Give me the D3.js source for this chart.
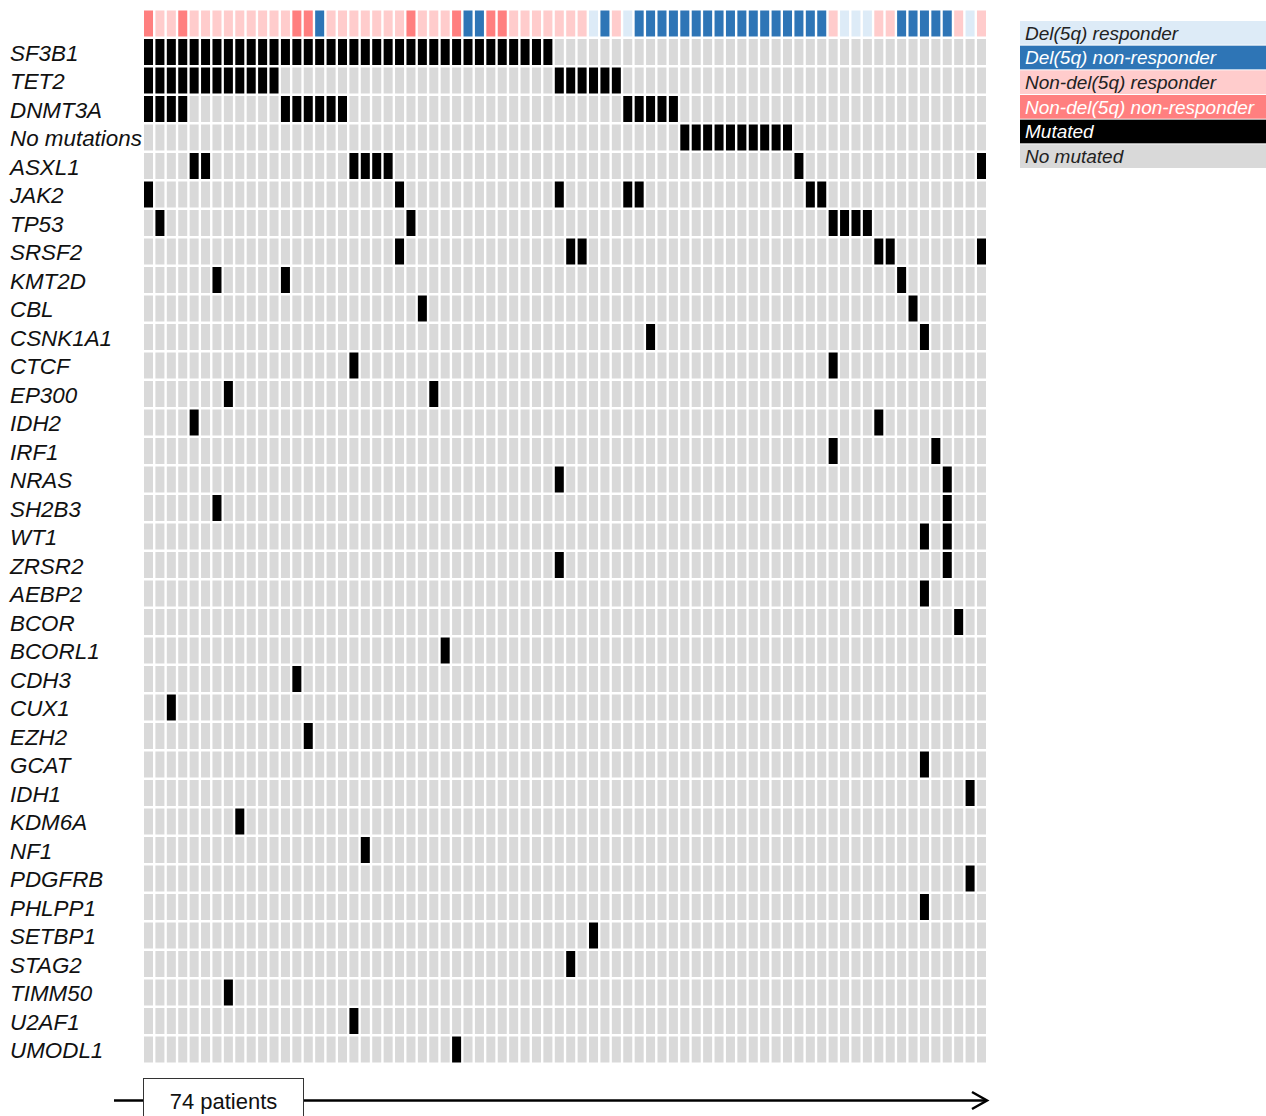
<!DOCTYPE html>
<html>
<head>
<meta charset="utf-8">
<script src="https://cdn.jsdelivr.net/npm/d3@7"></script>
<style>
  body { margin: 0; background: #fff; }
  svg { display: block; font-family: "Liberation Sans", Arial, sans-serif; }
</style>
</head>
<body>
<div id="chart"></div>
<script>
// genes, top to bottom
const genes = ["SF3B1", "TET2", "DNMT3A", "No mutations", "ASXL1", "JAK2", "TP53", "SRSF2",
  "KMT2D", "CBL", "CSNK1A1", "CTCF", "EP300", "IDH2", "IRF1", "NRAS", "SH2B3", "WT1", "ZRSR2",
  "AEBP2", "BCOR", "BCORL1", "CDH3", "CUX1", "EZH2", "GCAT", "IDH1", "KDM6A", "NF1", "PDGFRB",
  "PHLPP1", "SETBP1", "STAG2", "TIMM50", "U2AF1", "UMODL1"];

// mutated patients (column index 0..73) for each gene, same order as genes
const mutated = [
  d3.range(0, 36),
  [...d3.range(0, 12), ...d3.range(36, 42)],
  [...d3.range(0, 4), ...d3.range(12, 18), ...d3.range(42, 47)],
  d3.range(47, 57),
  [4, 5, 18, 19, 20, 21, 57, 73],
  [0, 22, 36, 42, 43, 58, 59],
  [1, 23, 60, 61, 62, 63],
  [22, 37, 38, 64, 65, 73],
  [6, 12, 66],
  [24, 67],
  [44, 68],
  [18, 60],
  [7, 25],
  [4, 64],
  [60, 69],
  [36, 70],
  [6, 70],
  [68, 70],
  [36, 70],
  [68],
  [71],
  [26],
  [13],
  [2],
  [14],
  [68],
  [72],
  [8],
  [19],
  [72],
  [68],
  [39],
  [37],
  [7],
  [18],
  [27]
];

// response group of each patient: DR del(5q) responder, DN del(5q) non-responder,
// NR non-del(5q) responder, NN non-del(5q) non-responder
const response = [
  "NN","NR","NR","NN","NR","NR","NR","NR","NR","NR","NR","NR","NR","NN","NN","DN",
  "NR","NR","NR","NR","NR","NR","NR","NN","NR","NR","NR","NN","DN","DN","NN","NN",
  "NR","NR","NR","NR","NR","NR","NR","DR","DN","NR","DR",
  "DN","DN","DN","DN","DN","DN","DN","DN","DN","DN","DN","DN","DN","DN","DN","DN","DN",
  "NR","DR","DR","DR","NR","NR","DN","DN","DN","DN","DN","NR","DR","NR"
];

const legendLabels = ["Del(5q) responder", "Del(5q) non-responder", "Non-del(5q) responder",
  "Non-del(5q) non-responder", "Mutated", "No mutated"];
const legendKeys = ["DR", "DN", "NR", "NN", "mut", "none"];

const nPatients = response.length;

const colors = {
  DR: "#ddebf7", DN: "#2e75b6", NR: "#ffcccc", NN: "#ff7f7f",
  mut: "#000000", none: "#d9d9d9"
};
const textColors = { DR: "#222", DN: "#fff", NR: "#222", NN: "#fff", mut: "#fff", none: "#222" };

const W = 1266, H = 1116;
const svg = d3.select("#chart").append("svg")
  .attr("width", W)
  .attr("height", H);

const x = d3.scaleBand()
  .domain(d3.range(nPatients))
  .range([144, 986])
  .paddingInner(0.21);

const rows = ["__response", ...genes];
const y = d3.scaleBand()
  .domain(rows)
  .range([10.5, 1062.5])
  .paddingInner(0.088);

// response annotation strip
svg.append("g")
  .selectAll("rect")
  .data(response)
  .enter().append("rect")
  .attr("x", (d, i) => x(i))
  .attr("y", y("__response"))
  .attr("width", x.bandwidth())
  .attr("height", y.bandwidth())
  .attr("fill", d => colors[d]);

// mutation grid
const cells = [];
genes.forEach((g, gi) => {
  const set = new Set(mutated[gi]);
  d3.range(nPatients).forEach(p => cells.push({ gene: g, patient: p, mut: set.has(p) }));
});

svg.append("g")
  .selectAll("rect")
  .data(cells)
  .enter().append("rect")
  .attr("x", d => x(d.patient))
  .attr("y", d => y(d.gene))
  .attr("width", x.bandwidth())
  .attr("height", y.bandwidth())
  .attr("fill", d => d.mut ? colors.mut : colors.none);

// gene labels
svg.append("g")
  .selectAll("text")
  .data(genes)
  .enter().append("text")
  .attr("x", 10)
  .attr("y", d => y(d) + y.bandwidth() / 2 + 0.5)
  .attr("dy", "0.36em")
  .style("font-size", "22.4px")
  .style("font-style", "italic")
  .style("fill", "#111")
  .text(d => d);

// legend
const lg = svg.append("g").attr("transform", "translate(1020,21)");
const ly = d3.scaleBand().domain(legendKeys).range([0, 147]).paddingInner(0.04);
lg.selectAll("rect")
  .data(legendKeys)
  .enter().append("rect")
  .attr("x", 0)
  .attr("y", d => ly(d))
  .attr("width", 246)
  .attr("height", ly.bandwidth())
  .attr("fill", d => colors[d]);
lg.selectAll("text")
  .data(legendKeys)
  .enter().append("text")
  .attr("x", 5)
  .attr("y", d => ly(d) + ly.bandwidth() / 2)
  .attr("dy", "0.36em")
  .style("font-size", "19px")
  .style("font-style", "italic")
  .style("fill", d => textColors[d])
  .text((d, i) => legendLabels[i]);

// patients arrow
const arrowY = 1100.5;
svg.append("line")
  .attr("x1", 114).attr("x2", 987)
  .attr("y1", arrowY).attr("y2", arrowY)
  .attr("stroke", "#000")
  .attr("stroke-width", 2.5);
svg.append("path")
  .attr("d", `M972,${arrowY - 8.5} L987,${arrowY} L972,${arrowY + 8.5}`)
  .attr("fill", "none")
  .attr("stroke", "#000")
  .attr("stroke-width", 2.5);

svg.append("rect")
  .attr("x", 143.5).attr("y", 1078.5)
  .attr("width", 160).attr("height", 50)
  .attr("fill", "#fff")
  .attr("stroke", "#333")
  .attr("stroke-width", 1);
svg.append("text")
  .attr("x", 223.5)
  .attr("y", 1109)
  .attr("text-anchor", "middle")
  .style("font-size", "22px")
  .style("fill", "#111")
  .text(nPatients + " patients");
</script>
</body>
</html>
